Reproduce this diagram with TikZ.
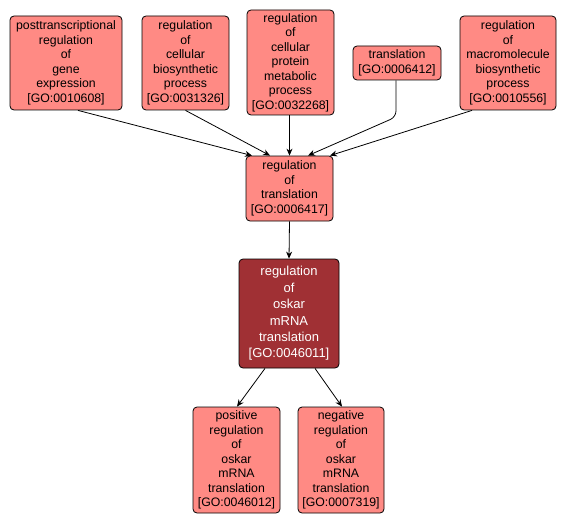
\documentclass[tikz,border=0pt]{standalone}
\usepackage{fontspec}
\setmainfont{Liberation Sans}
\usetikzlibrary{arrows.meta}
\definecolor{nodefill}{HTML}{FF8A84}
\definecolor{mainfill}{HTML}{A03034}
\tikzset{
  go/.style={draw=black, line width=0.8pt, fill=nodefill, rounded corners=4pt, align=center, inner sep=0pt,
    font=\fontsize{12.3}{14.5}\selectfont, text=black},
  gomain/.style={go, fill=mainfill, text=white, font=\fontsize{13}{16.4}\selectfont},
  arr/.style={draw=black, line width=0.8pt, -{Stealth[length=7pt,width=6pt]}}
}
\begin{document}
\begin{tikzpicture}[x=1pt,y=-1pt]
\useasboundingbox (0,0) rectangle (567,524);
\node[go, minimum width=112pt, minimum height=94pt] (post) at (66,63) {posttranscriptional\\regulation\\of\\gene\\expression\\{[GO:0010608]}};
\node[go, minimum width=87pt, minimum height=94pt] (rcb) at (185.5,63) {regulation\\of\\cellular\\biosynthetic\\process\\{[GO:0031326]}};
\node[go, minimum width=87pt, minimum height=105pt] (rp) at (290.5,62.5) {regulation\\of\\cellular\\protein\\metabolic\\process\\{[GO:0032268]}};
\node[go, minimum width=88pt, minimum height=34pt] (tr) at (397,63) {translation\\{[GO:0006412]}};
\node[go, minimum width=96pt, minimum height=94pt] (mm) at (508,63) {regulation\\of\\macromolecule\\biosynthetic\\process\\{[GO:0010556]}};
\node[go, minimum width=87pt, minimum height=65pt] (rt) at (289.5,188.5) {regulation\\of\\translation\\{[GO:0006417]}};
\node[gomain, minimum width=100pt, minimum height=109pt] (ok) at (289,313.5) {regulation\\of\\oskar\\mRNA\\translation\\{[GO:0046011]}};
\node[go, minimum width=87pt, minimum height=106pt] (pos) at (236.5,460) {positive\\regulation\\of\\oskar\\mRNA\\translation\\{[GO:0046012]}};
\node[go, minimum width=86pt, minimum height=106pt] (neg) at (341,460) {negative\\regulation\\of\\oskar\\mRNA\\translation\\{[GO:0007319]}};
\coordinate (trbend) at (396,117);
\draw[arr] ([xshift=12pt]post.south) -- ([xshift=-37.5pt]rt.north);
\draw[arr] (rcb.south) -- ([xshift=-19.5pt]rt.north);
\draw[arr] ([xshift=-1pt]rp.south) -- (rt.north);
\draw[arr, rounded corners=6pt] ([xshift=-1pt]tr.south) -- (trbend) -- ([xshift=18.5pt]rt.north);
\draw[arr] ([xshift=-36pt]mm.south) -- ([xshift=40.5pt]rt.north);
\draw[arr] (rt.south) -- (ok.north);
\draw[arr] ([xshift=-24pt]ok.south) -- ([xshift=0.5pt]pos.north);
\draw[arr] ([xshift=26pt]ok.south) -- ([xshift=1pt]neg.north);
\end{tikzpicture}
\end{document}
